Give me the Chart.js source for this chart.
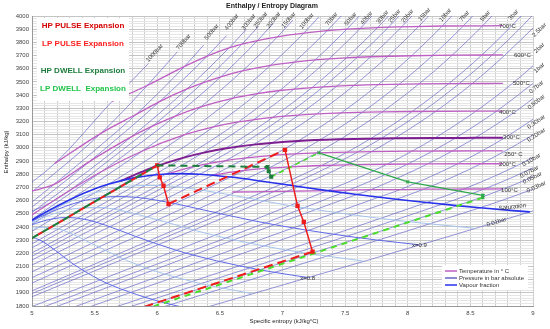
<!DOCTYPE html>
<html>
<head>
<meta charset="utf-8">
<script src="https://cdn.jsdelivr.net/npm/chart.js@4.4.1/dist/chart.umd.min.js"></script>
<style>
  body { margin: 0; background: #fff; }
  #wrap { width: 550px; height: 329px; }
</style>
</head>
<body>
<div id="wrap"><canvas id="mollier" width="550" height="329"></canvas></div>
<script>
// isobars, [entropy, enthalpy] pairs
const p1000 = [[4.8,2600],[5.18,2880],[5.64,3353],[5.93,3640]];
const p700 = [[4.8,2510],[5.55,3110],[5.92,3473],[6.16,3728]];
const p500 = [[4.5896,2284.7],[5.1762,2722.5],[5.5563,3025.5],[5.83,3252.6],[6.2179,3617.9],[6.37,3779]];
const p400 = [[4.1162,1934.1],[4.9459,2511.8],[5.4734,2906.5],[6.0182,3350.4],[6.4023,3699.8],[6.553,3851]];
const p300 = [[4.4758,2151.6],[5.4435,2821.0],[5.7956,3084.8],[6.2374,3446.7],[6.5732,3757.9],[6.711,3899]];
const p250 = [[4.9,2488],[5.1418,2580.0],[5.6743,2949.2],[5.9642,3166.1],[6.3637,3493.5],[6.6766,3786.4],[6.809,3923]];
const p200 = [[4.927,2409.7],[5.5526,2818.1],[5.9043,3063.1],[6.1446,3241.2],[6.5075,3539.0],[6.8003,3814.0],[6.927,3945]];
const p150 = [[4.9,2358],[5.31,2610.5],[5.4435,2692.9],[5.8817,2975.7],[6.1433,3157.9],[6.3479,3310.8],[6.6797,3583.1],[6.9596,3842.1],[7.083,3969]];
const p100 = [[4.9,2307.6],[5.614,2724.7],[5.9458,2924.0],[6.2139,3097.5],[6.4217,3242.4],[6.5993,3375.1],[6.9045,3625.8],[7.1696,3870.0],[7.289,3992]];
const p70 = [[4.9,2261.7],[5.813,2772.1],[5.9337,2839.9],[6.2305,3016.9],[6.4502,3159.2],[6.8,3411.4],[7.0959,3650.6],[7.357,3888.9],[7.59,4123]];
const p50 = [[4.9,2218],[5.973,2794.3],[6.211,2925.7],[6.4516,3069.3],[6.6483,3196.7],[6.9781,3434.7],[7.2605,3666.9],[7.5136,3900.3],[7.7458,4137.7]];
const p40 = [[4.9,2188.9],[6.07,2801.4],[6.2301,2886.2],[6.3639,2961.7],[6.5843,3093.3],[6.7714,3214.5],[7.0922,3446.0],[7.3706,3674.9],[7.6214,3906.3],[7.8523,4142]];
const p30 = [[4.9,2152.2],[6.186,2804.2],[6.2893,2856.5],[6.5412,2994.3],[6.745,3116.1],[6.9235,3231.7],[7.2359,3457.2],[7.5103,3682.8],[7.759,3912.2],[7.9885,4147]];
const p25 = [[4.9,2128.5],[6.257,2803.1],[6.4107,2880.9],[6.6459,3009.6],[6.8424,3127],[7.017,3240.1],[7.3254,3462.8],[7.5979,3686.8],[7.8455,3914.8],[8.0744,4149]];
const p20 = [[4.9,2100.2],[6.34,2799.5],[6.5475,2903.3],[6.7684,3024.2],[6.9583,3137.7],[7.1292,3248.4],[7.4337,3468.3],[7.7043,3690.7],[7.9509,3917.5],[8.1791,4150.6]];
const p15 = [[4.9,2063.7],[6.445,2792.2],[6.7111,2923.9],[6.9198,3038.2],[7.2709,3256.5],[7.5718,3473.7],[7.8407,3694.1],[8.0872,3920.8],[8.3155,4153]];
const p10 = [[4.9,2014.2],[6.586,2778.1],[6.6956,2828.3],[6.9265,2943.1],[7.1246,3051.6],[7.467,3264.5],[7.7642,3479.1],[8.0311,3698.6],[8.2755,3924.1],[8.5024,4156.2]];
const p7 = [[4.9,1971.4],[6.708,2763.5],[6.8884,2845.3],[7.107,2954],[7.2995,3059.8],[7.637,3269],[7.9316,3482.3],[8.1979,3700.2],[8.4406,3921.9],[8.668,4155]];
const p5 = [[4.9,1932.3],[6.821,2748.7],[7.061,2855.8],[7.2725,2961],[7.4614,3064.6],[7.7956,3272.4],[8.0893,3484.5],[8.3544,3702.5],[8.5978,3925.8],[8.824,4155]];
const p3 = [[4.9,1874.5],[6.992,2725.3],[7.0792,2761.2],[7.3132,2865.9],[7.5181,2967.9],[7.7037,3069.6],[8.0347,3275.5],[8.3271,3486.6],[8.5915,3704],[8.8319,3927],[9.06,4157]];
const p2_5 = [[4.9,1854.4],[7.053,2716.9],[7.17,2765],[7.3992,2868.4],[7.603,2969.6],[7.788,3070.9],[8.119,3276.1],[8.411,3487.1],[8.675,3704.4],[8.917,3926.5],[9.143,4157]];
const p2 = [[4.9,1830.6],[7.127,2706.7],[7.281,2769.1],[7.5081,2870.7],[7.71,2971.2],[7.8941,3072.1],[8.2236,3276.7],[8.5153,3487.7],[8.777,3704.8],[9.0194,3927]];
const p1 = [[4.95,1777.4],[7.359,2675.5],[7.6148,2776.6],[7.8356,2875.5],[8.0346,2974.5],[8.2172,3074.5],[8.5452,3278.6],[8.8362,3488.7],[9.0999,3705.6]];
const p0_7 = [[5.05,1777.7],[7.48,2660],[7.78,2779.5],[8.0,2877],[8.199,2975.5],[8.382,3075.2],[8.71,3279],[9.001,3489]];
const p0_5 = [[5.15,1779.5],[7.594,2645.9],[7.705,2682.4],[7.94,2780.1],[8.158,2877.7],[8.356,2976],[8.537,3075.5],[8.866,3279.2],[9.156,3489]];
const p0_3 = [[5.3,1780.5],[7.768,2625.3],[7.941,2683],[8.181,2781],[8.397,2878.5],[8.593,2976.5],[8.774,3076],[9.10,3279.5]];
const p0_2 = [[5.42,1780.7],[7.908,2609.7],[8.128,2686.2],[8.368,2782],[8.584,2879],[8.78,2977],[8.961,3076],[9.13,3177]];
const p0_1 = [[5.63,1780.8],[8.15,2584.7],[8.4479,2687.5],[8.6882,2783.0],[8.9038,2879.5],[9.1002,2977.3]];
const p0_07 = [[5.74,1781.1],[8.275,2572.5],[8.612,2688],[8.853,2783.5],[9.068,2880]];
const p0_05 = [[5.85,1782.4],[8.395,2561.2],[8.768,2688.5],[9.008,2783.5]];
const p0_03 = [[6.01,1782.2],[8.576,2544.8],[8.731,2594],[9.004,2688]];
const p0_01 = [[6.36,1781.2],[8.975,2513.7],[9.24,2594.5]];

const isobarLines = [p1000, p700, p500, p400, p300, p250, p200, p150, p100, p70, p50, p40, p30, p25,
  p20, p15, p10, p7, p5, p3, p2_5, p2, p1, p0_7, p0_5, p0_3, p0_2, p0_1, p0_07, p0_05, p0_03, p0_01];

// isotherms
const t700 = [[5.64,3353],[5.92,3473],[6.2179,3617.9],[6.4044,3698.0],[6.5732,3757.9],[6.6766,3786.4],[6.8003,3814.0],[6.9596,3842.1],[7.1696,3870.0],[7.357,3888.9],[7.5136,3900.3],[7.759,3912.2],[7.9509,3917.5],[8.2755,3924.1],[8.5978,3925.8],[8.76,3926.5]];
const t600 = [[5.18,2880],[5.55,3110],[5.83,3252.6],[6.0182,3350.4],[6.2374,3446.7],[6.3637,3493.5],[6.5075,3539.0],[6.6797,3583.1],[6.9045,3625.8],[7.0959,3650.6],[7.2605,3666.9],[7.5103,3682.8],[7.7043,3690.7],[8.0311,3698.6],[8.3544,3702.5],[8.76,3704.7]];
const t500 = [[4.98,2668],[5.1762,2722.5],[5.4762,2906.5],[5.7956,3084.8],[5.9642,3166.1],[6.1446,3241.2],[6.3479,3310.8],[6.5993,3375.1],[6.8,3411.4],[6.9781,3434.7],[7.2359,3457.2],[7.4337,3468.3],[7.7642,3479.1],[8.0893,3484.5],[8.3271,3486.6],[8.76,3488.2]];
const t400 = [[4.4758,2151.6],[5.1418,2580.0],[5.5526,2818.1],[5.8817,2975.7],[6.2139,3097.5],[6.4502,3159.2],[6.6483,3196.7],[6.9235,3231.7],[7.1292,3248.4],[7.467,3264.5],[7.7956,3272.4],[8.0347,3275.5],[8.5452,3278.6],[8.76,3279]];
const t300 = [[5.7081,2749.0],[5.9337,2839.9],[6.211,2925.7],[6.3639,2961.7],[6.5412,2994.3],[6.7684,3024.2],[7.1246,3051.6],[7.4614,3064.6],[7.7037,3069.6],[7.8941,3072.1],[8.2172,3074.5],[8.537,3075.5],[8.76,3076]];
const t250 = [[6.073,2801.0],[6.2893,2856.5],[6.5475,2903.3],[6.7111,2923.9],[6.9265,2943.1],[7.107,2954],[7.2725,2961.0],[7.5181,2967.9],[7.71,2971.2],[8.0346,2974.5],[8.356,2976],[8.76,2977]];
const t200 = [[6.4323,2792.0],[6.6956,2828.3],[6.8884,2845.3],[7.061,2855.8],[7.3132,2865.9],[7.5081,2870.7],[7.8356,2875.5],[8.158,2877.7],[8.585,2879],[8.76,2879.2]];
const t100 = [[6.6,2665],[7.0,2669],[7.3549,2675.6],[7.705,2682.4],[7.941,2683],[8.128,2686.2],[8.4479,2687.5],[8.76,2688]];

// saturated vapour line and vapour fraction lines
const satVapour = [[4.927,2409.7],[5.1044,2509.1],[5.31,2610.5],[5.492,2684.9],[5.614,2724.7],[5.813,2772.1],[5.973,2794.3],[6.07,2801.4],[6.186,2804.2],[6.34,2799.5],[6.586,2778.1],[6.821,2748.7],[7.127,2706.7],[7.359,2675.5],[7.594,2645.9],[7.908,2609.7],[8.15,2584.7],[8.395,2561.2],[8.576,2544.8],[8.975,2513.7]];
const x95 = [[4.881,2380.5],[5.229,2560.5],[5.501,2658.8],[5.82,2712.3],[6.009,2714.4],[6.364,2677.3],[7.056,2562.6],[7.775,2465],[8.532,2389.5]];
const x90 = [[4.836,2363],[5.147,2510.5],[5.389,2593],[5.544,2621.6],[5.668,2630.3],[5.832,2624.6],[6.141,2576.6],[6.325,2537.9],[6.753,2449.7],[6.944,2415.4],[7.4,2345.4],[7.754,2300.4],[8.088,2265]];
const x85 = [[4.79,2322],[5.066,2460.5],[5.276,2527.1],[5.515,2548.3],[5.655,2534.8],[5.919,2475.8],[6.451,2336.8],[7.025,2225.7],[7.645,2141]];
const x80 = [[4.744,2293],[4.985,2410.5],[5.163,2461.3],[5.275,2471.1],[5.363,2466.3],[5.478,2445],[5.697,2375],[5.829,2327],[6.148,2224],[6.293,2184.8],[6.65,2106],[6.932,2056],[7.201,2016.5]];
const x75 = [[4.699,2263.9],[4.904,2360.5],[5.051,2395.4],[5.21,2384.3],[5.301,2355.3],[5.474,2274.3],[5.845,2111],[6.275,1986.5],[6.758,1892.6]];
const x70 = [[4.822,2310.5],[4.938,2329.6],[5.057,2302.3],[5.124,2265.5],[5.252,2173.5],[5.333,2116.2],[5.542,1998],[5.643,1954.3],[5.9,1867],[6.109,1811.7],[6.314,1768]];

// expansion paths
const hpPulseRise = [[5.0,2315],[6.0,2867]];
const hpPulseDrop = [[6.0,2867],[6.02,2776],[6.05,2712],[6.09,2574]];
const lpPulseRise = [[6.09,2574],[7.02,2985]];
const lpPulseDrop = [[7.02,2985],[7.12,2560],[7.17,2438],[7.24,2212]];
const lpPulseCond = [[7.24,2212],[5.9,1795]];
const hpDwellRise = [[5.0,2315],[6.0,2867],[6.88,2855]];
const hpDwellDrop = [[6.88,2855],[6.89,2822],[6.91,2780]];
const lpDwellRise = [[6.91,2780],[7.29,2962]];
const lpDwellCool = [[7.29,2962],[8.0,2742],[8.6,2640]];
const lpDwellDrop = [[8.6,2640],[8.6,2622]];
const lpDwellCond = [[8.6,2622],[5.97,1797]];

// text on the diagram: [text, s, h, angle in degrees]
const isobarTags = [
  ['1000bar',5.98,3719,-48],['700bar',6.21,3803,-50],['500bar',6.435,3879,-50],['400bar',6.595,3954,-52],
  ['300bar',6.73,3954,-52],['250bar',6.826,3970,-52],['200bar',6.93,3970,-52],['150bar',7.049,3970,-50],
  ['100bar',7.193,3962,-50],['70bar',7.392,3977,-50],['50bar',7.544,3977,-50],['40bar',7.671,3985,-50],
  ['30bar',7.799,3992,-50],['25bar',7.895,4000,-50],['20bar',7.998,4000,-50],['15bar',8.134,4012,-50],
  ['10bar',8.301,4008,-50],['7bar',8.453,4000,-50],['5bar',8.62,4000,-50],['3bar',8.844,4008,-48],
  ['2.5bar',9.051,3894,-45],['2bar',9.051,3757,-45],['1bar',9.051,3606,-42],['0.7bar',9.027,3461,-40],
  ['0.50bar',9.027,3348,-38],['0.30bar',9.027,3196,-35],['0.20bar',9.027,3097,-33],['0.10bar',8.987,2908,-30],
  ['0.07bar',8.971,2817,-28],['0.05bar',8.995,2771,-27],['0.03bar',9.027,2703,-25],['0.01bar',8.708,2437,-17]
];
const isothermTags = [
  ['700°C',8.796,3924],['600°C',8.915,3704],['500°C',8.907,3492],['400°C',8.796,3272],
  ['300°C',8.828,3082],['250° C',8.844,2953],['200°C',8.796,2877],['100°C',8.812,2680]
];
const otherTags = [['Saturation',8.836,2551,-7],['x=0.9',8.094,2263,0],['x=0.8',7.201,2012,0]];

const toXY = pts => pts.map(p => ({ x: p[0], y: p[1] }));

function curve(pts, color, width, order) {
  return {
    data: toXY(pts), showLine: true, borderColor: color, borderWidth: width,
    pointRadius: 0, tension: 0.4, cubicInterpolationMode: 'monotone', order: order
  };
}

function path(pts, color, width, dash, marker, offset) {
  return {
    data: toXY(pts), showLine: true, borderColor: color, backgroundColor: color,
    borderWidth: width, borderDash: dash || [], borderDashOffset: offset || 0, tension: 0,
    pointRadius: marker ? 2 : 0, pointStyle: marker || 'circle', pointBorderColor: color,
    pointBackgroundColor: color, order: 0
  };
}

const datasets = [];
isobarLines.forEach(p => datasets.push(curve(p, 'rgba(100,100,200,0.85)', 0.8, 6)));
[x95, x85, x75].forEach(p => datasets.push(curve(p, 'rgb(165,195,235)', 1, 5)));
[x90, x80, x70].forEach(p => datasets.push(curve(p, 'rgb(95,105,230)', 1, 4)));
[t700, t600, t500, t400, t250, t200, t100].forEach(p => datasets.push(curve(p, 'rgb(190,95,195)', 1.3, 3)));
datasets.push(curve(t300, 'rgb(125,30,145)', 2, 3));
datasets.push(curve(satVapour, 'rgb(40,50,235)', 1.6, 2));

const RED = '#ee1c1c', DKGREEN = '#1d7d3c', GREEN = '#2ea84a', LTGREEN = '#4ade2a';
datasets.push(path(hpDwellRise, DKGREEN, 2, [7, 5], null, 0));
datasets.push(path(hpPulseRise, RED, 2, [7, 5], null, 6));
datasets.push(path(hpPulseDrop, RED, 1.5, null, 'rect'));
datasets.push(path(lpPulseRise, RED, 2, [9, 5]));
datasets.push(path(lpPulseDrop, RED, 1.5, null, 'rect'));
datasets.push(path(lpPulseCond, RED, 2, [9, 5]));
datasets.push(path(hpDwellDrop, DKGREEN, 1.2, null, 'rect'));
datasets.push(path(lpDwellRise, LTGREEN, 1.5, [5, 4]));
datasets.push(path(lpDwellCool, GREEN, 1.3, null, 'crossRot'));
datasets.push(path(lpDwellDrop, GREEN, 1.3, null, 'crossRot'));
datasets.push(path(lpDwellCond, LTGREEN, 2, [6, 5]));

const FONT = '"Liberation Sans", Arial, sans-serif';

const overlay = {
  id: 'overlay',
  afterDatasetsDraw(chart) {
    const { ctx, scales: { x, y } } = chart;
    const put = (txt, s, h, ang, size, color, align) => {
      ctx.save();
      ctx.translate(x.getPixelForValue(s), y.getPixelForValue(h));
      ctx.rotate((ang || 0) * Math.PI / 180);
      ctx.font = size + 'px ' + FONT;
      ctx.fillStyle = color;
      ctx.textAlign = align || 'center';
      ctx.textBaseline = 'middle';
      ctx.fillText(txt, 0, 0);
      ctx.restore();
    };
    isobarTags.forEach(t => put(t[0], t[1], t[2], t[3], 6, '#333'));
    isothermTags.forEach(t => put(t[0], t[1], t[2], 0, 6, '#333'));
    otherTags.forEach(t => put(t[0], t[1], t[2], t[3], 6, '#333'));

    // series key, top left
    ctx.fillStyle = '#fff';
    ctx.fillRect(37, 18, 92, 83);
    ctx.font = 'bold 8px ' + FONT;
    ctx.textAlign = 'center';
    ctx.textBaseline = 'middle';
    [['HP PULSE Expansion', '#d40000', 26], ['LP PULSE Expansion', '#ff1f1f', 44],
     ['HP DWELL Expansion', '#1d7d3c', 71], ['LP DWELL  Expansion', '#22c44a', 89]].forEach(k => {
      ctx.fillStyle = k[1];
      ctx.fillText(k[0], 83, k[2]);
    });

    // line key, bottom right
    ctx.fillStyle = '#fff';
    ctx.fillRect(442, 265, 86, 25);
    ctx.font = '6px ' + FONT;
    ctx.textAlign = 'left';
    [['Temperature in ° C', 'rgb(190,95,195)', 271], ['Pressure in bar absolute', 'rgb(100,100,200)', 278],
     ['Vapour fraction', 'rgb(40,50,235)', 285]].forEach(k => {
      ctx.strokeStyle = k[1];
      ctx.lineWidth = 1.5;
      ctx.beginPath();
      ctx.moveTo(445, k[2]);
      ctx.lineTo(457, k[2]);
      ctx.stroke();
      ctx.fillStyle = '#333';
      ctx.fillText(k[0], 459, k[2]);
    });

    // titles
    ctx.fillStyle = '#222';
    ctx.textAlign = 'center';
    ctx.font = 'bold 7px ' + FONT;
    ctx.fillText('Enthalpy / Entropy Diagram', 272, 6);
    ctx.font = '6px ' + FONT;
    ctx.fillText('Specific entropy (kJ/kg°C)', 284, 321);
    ctx.save();
    ctx.translate(6, 152);
    ctx.rotate(-Math.PI / 2);
    ctx.fillText('Enthalpy (kJ/kg)', 0, 0);
    ctx.restore();
  }
};

new Chart(document.getElementById('mollier'), {
  type: 'scatter',
  data: { datasets },
  options: {
    responsive: false,
    animation: false,
    layout: { padding: { top: 16, right: 17, left: 0, bottom: 0 } },
    plugins: { legend: { display: false }, tooltip: { enabled: false }, title: { display: false } },
    scales: {
      x: {
        type: 'linear', min: 5, max: 9,
        afterFit: s => { s.height = 23; },
        border: { color: '#999' },
        grid: { color: '#cfcfcf', drawTicks: false },
        ticks: {
          stepSize: 0.1, autoSkip: false, maxRotation: 0, padding: 4,
          font: { size: 6, family: FONT }, color: '#444',
          callback: v => Math.abs(v * 2 - Math.round(v * 2)) < 1e-6 ? String(Math.round(v * 10) / 10) : ''
        }
      },
      y: {
        type: 'linear', min: 1800, max: 4000,
        afterFit: s => { s.width = 32; },
        border: { color: '#999' },
        grid: {
          drawTicks: false,
          color: c => (c.tick && c.tick.value % 100 === 0) ? '#c4c4c4' : '#e6e6e6'
        },
        ticks: {
          stepSize: 20, autoSkip: false, padding: 3,
          font: { size: 6, family: FONT }, color: '#444',
          callback: v => v % 100 === 0 ? String(v) : ''
        }
      }
    }
  },
  plugins: [overlay]
});
</script>
</body>
</html>
